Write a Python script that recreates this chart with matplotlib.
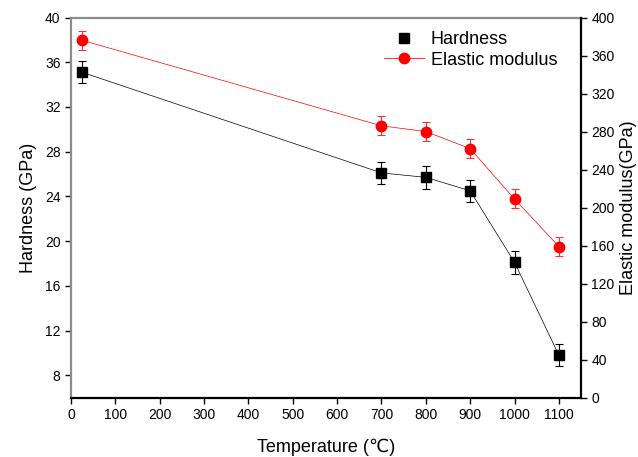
import numpy as np
import matplotlib.pyplot as plt
from matplotlib.lines import Line2D

plt.rcParams['font.family'] = ['Liberation Sans', 'DejaVu Sans']

# data
temp = [25, 700, 800, 900, 1000, 1100]
hardness = [35.1, 26.1, 25.7, 24.5, 18.1, 9.8]
hardness_err = [1.0, 1.0, 1.0, 1.0, 1.0, 1.0]
modulus = [376, 286, 280, 262, 209, 159]
modulus_err = [10, 10, 10, 10, 10, 10]

fig = plt.figure(figsize=(6.38, 4.57), dpi=100)
ax = fig.add_axes([0.1113, 0.130, 0.7994, 0.8317])
ax2 = ax.twinx()

ax.errorbar(temp, hardness, yerr=hardness_err, color='black', marker='s',
            markersize=6.5, linewidth=0.5, elinewidth=0.8, capsize=3,
            capthick=0.8, zorder=3)
ax2.errorbar(temp, modulus, yerr=modulus_err, color='#ff0000', marker='o',
             markersize=7.5, linewidth=0.5, elinewidth=0.8, capsize=3,
             capthick=0.8, ecolor='#ff3030', zorder=3)

ax.set_xlim(0, 1150)
ax.set_ylim(6, 40)
ax2.set_ylim(0, 400)
ax.set_xticks(np.arange(0, 1101, 100))
ax.set_yticks(np.arange(8, 41, 4))
ax2.set_yticks(np.arange(0, 401, 40))

for a in (ax, ax2):
    a.tick_params(direction='out', length=4, width=1, labelsize=10)
    for s in a.spines.values():
        s.set_visible(False)
ax.spines['left'].set_visible(True)
ax.spines['left'].set_color('#8c8c8c')
ax.spines['left'].set_linewidth(1.6)
ax.spines['top'].set_visible(True)
ax.spines['top'].set_color('#8c8c8c')
ax.spines['top'].set_linewidth(1.6)
ax.spines['bottom'].set_visible(True)
ax.spines['bottom'].set_linewidth(1.6)
ax2.spines['right'].set_visible(True)
ax2.spines['right'].set_linewidth(1.6)

ax.set_xlabel('Temperature (℃)', fontsize=13, labelpad=12)
ax.set_ylabel('Hardness (GPa)', fontsize=13, labelpad=6)
ax2.set_ylabel('Elastic modulus(GPa)', fontsize=13, labelpad=4)

handles = [
    Line2D([], [], color='black', marker='s', markersize=6.5, linestyle='none'),
    Line2D([], [], color='#ff4040', marker='o', markersize=7.5, linewidth=0.8,
           markerfacecolor='#ff0000', markeredgecolor='#ff0000'),
]
ax2.legend(handles, ['Hardness', 'Elastic modulus'], loc='upper right',
           bbox_to_anchor=(0.975, 0.993), frameon=False, fontsize=13,
           handlelength=2.2, handletextpad=0.4, labelspacing=0.2,
           borderaxespad=0.2)

fig.savefig('out.png', dpi=100)
